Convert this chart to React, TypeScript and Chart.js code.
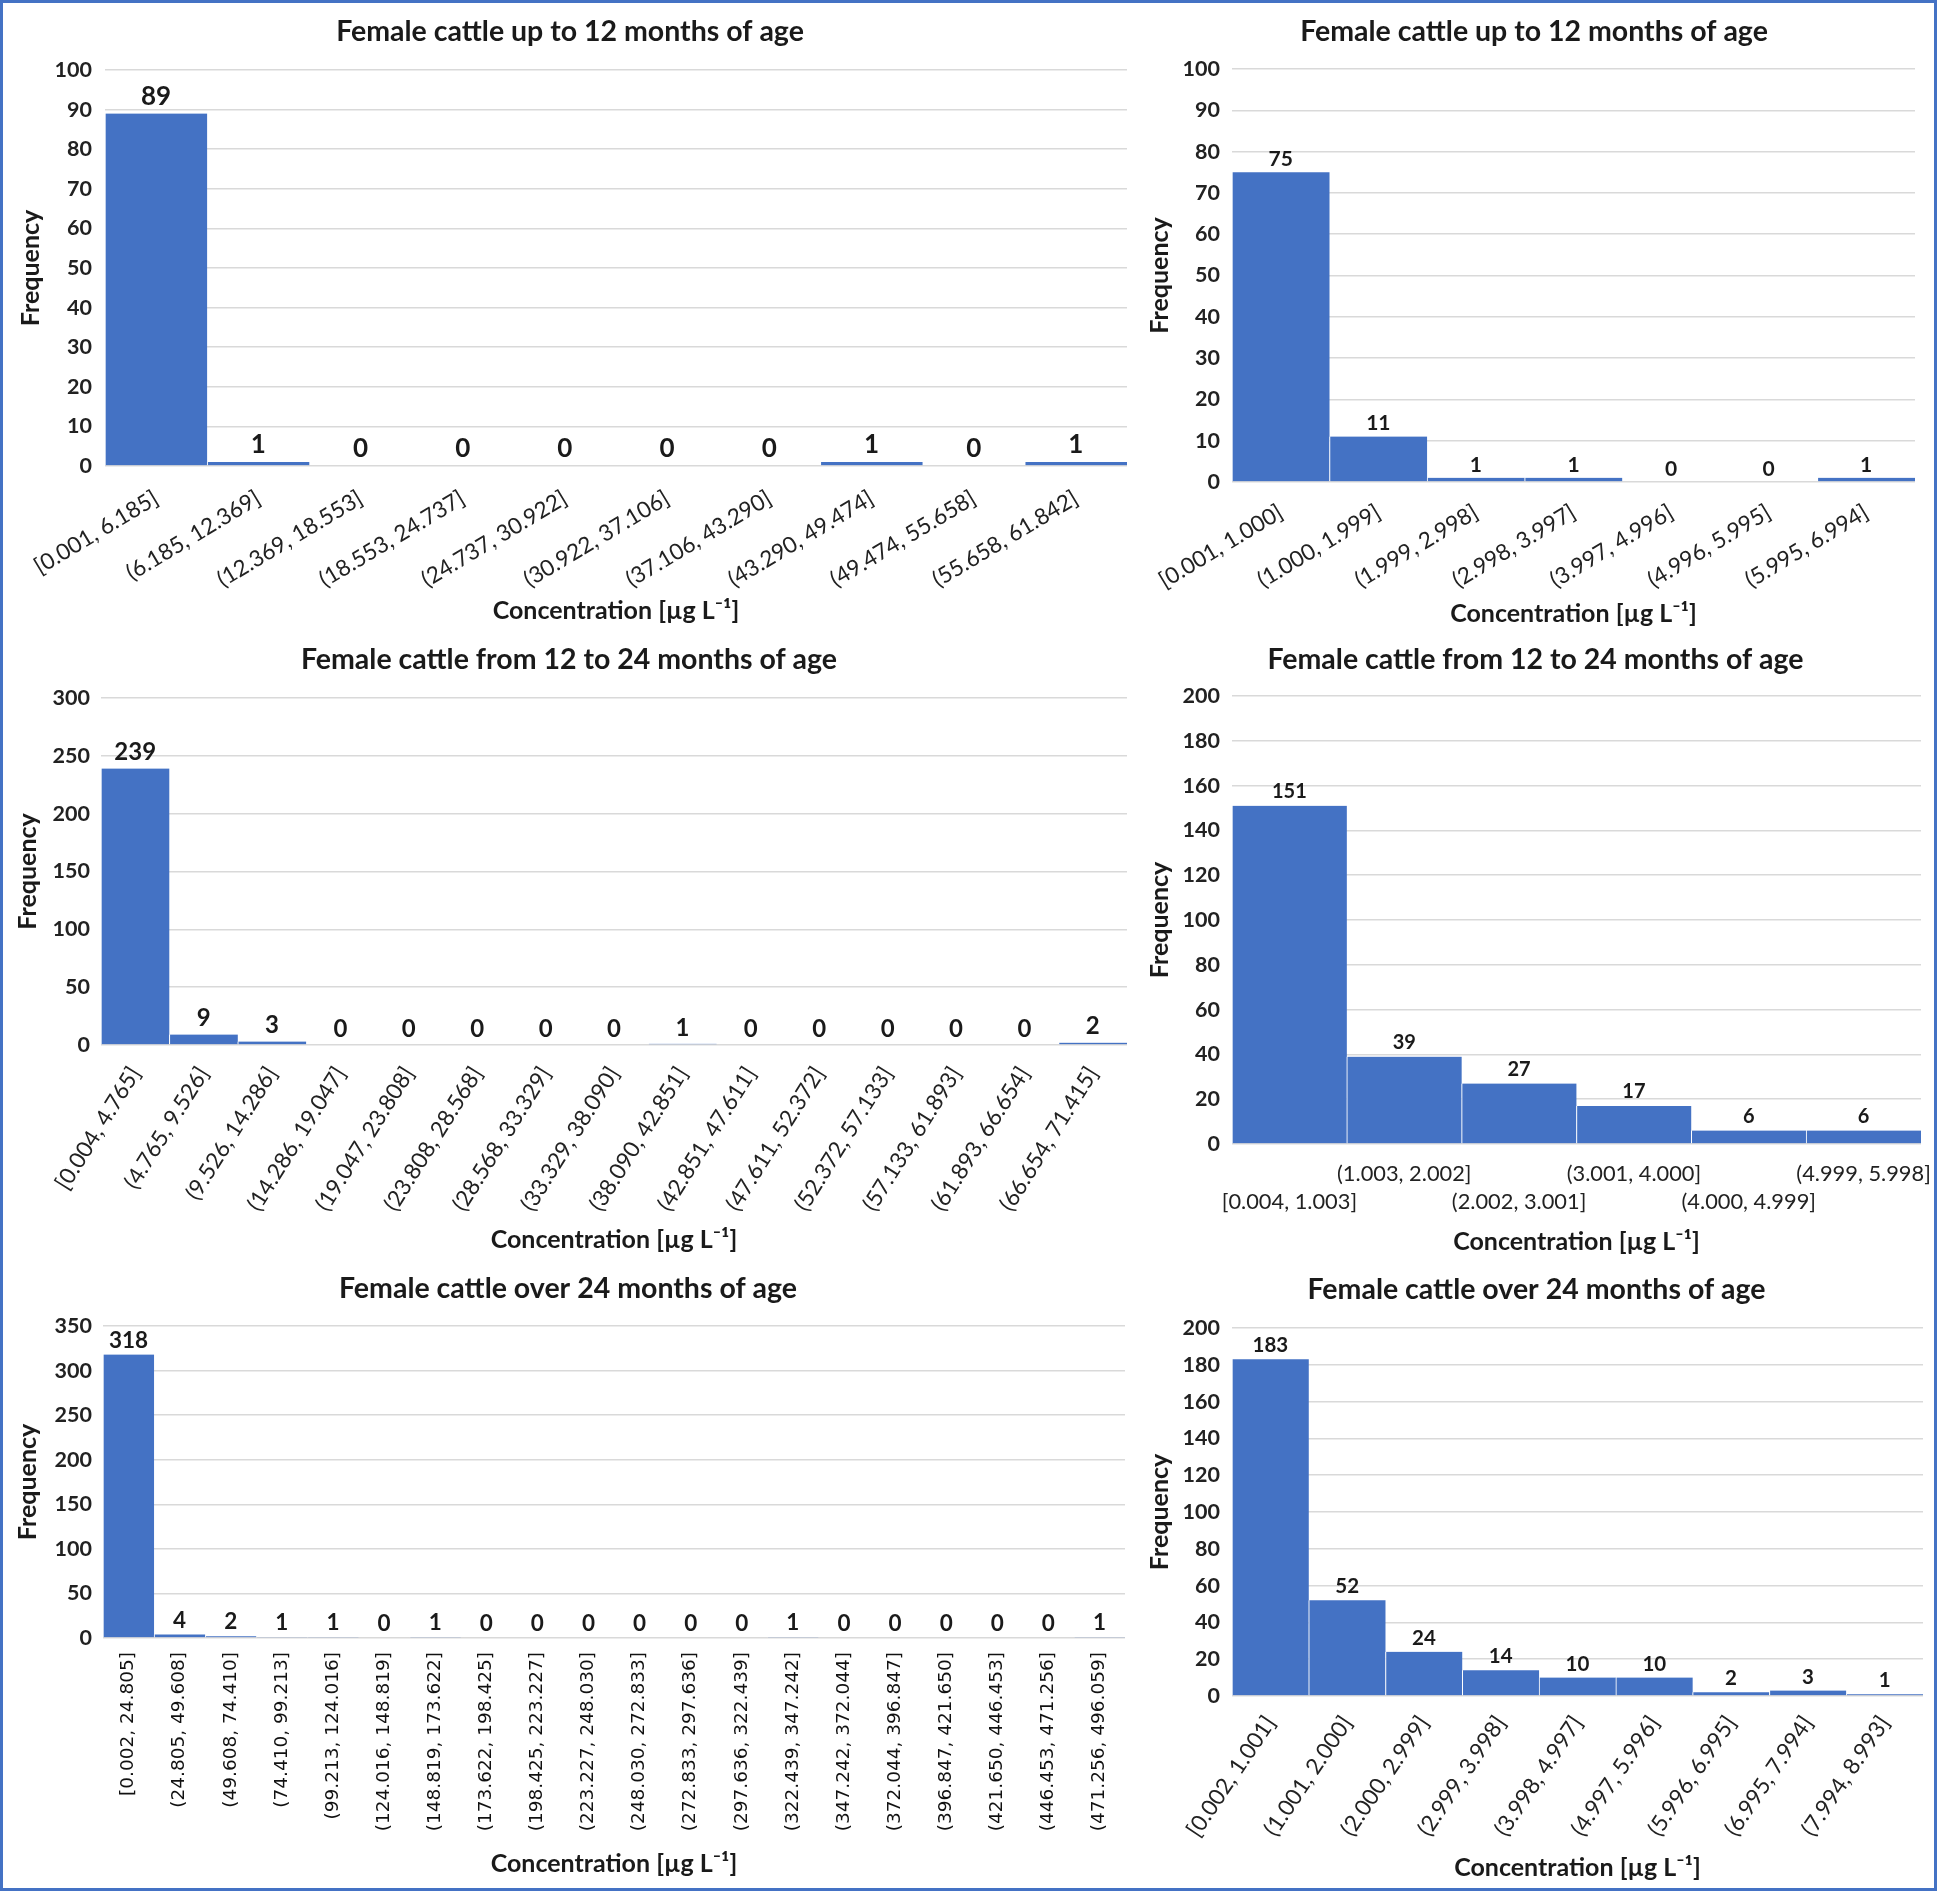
import React, { useEffect, useRef } from 'react';
import { Chart, registerables } from 'chart.js';

Chart.register(...registerables);

// ---------------- data ----------------
const title12 = 'Female cattle up to 12 months of age';
const title1224 = 'Female cattle from 12 to 24 months of age';
const title24 = 'Female cattle over 24 months of age';
const xAxisTitle = 'Concentration [µg L⁻¹]';
const yAxisTitle = 'Frequency';

const c1Labels = ['[0.001, 6.185]', '(6.185, 12.369]', '(12.369, 18.553]', '(18.553, 24.737]', '(24.737, 30.922]', '(30.922, 37.106]', '(37.106, 43.290]', '(43.290, 49.474]', '(49.474, 55.658]', '(55.658, 61.842]'];
const c1Values = [89, 1, 0, 0, 0, 0, 0, 1, 0, 1];
const c1Ticks = { max: 100, step: 10 };

const c2Labels = ['[0.001, 1.000]', '(1.000, 1.999]', '(1.999, 2.998]', '(2.998, 3.997]', '(3.997, 4.996]', '(4.996, 5.995]', '(5.995, 6.994]'];
const c2Values = [75, 11, 1, 1, 0, 0, 1];
const c2Ticks = { max: 100, step: 10 };

const c3Labels = ['[0.004, 4.765]', '(4.765, 9.526]', '(9.526, 14.286]', '(14.286, 19.047]', '(19.047, 23.808]', '(23.808, 28.568]', '(28.568, 33.329]', '(33.329, 38.090]', '(38.090, 42.851]', '(42.851, 47.611]', '(47.611, 52.372]', '(52.372, 57.133]', '(57.133, 61.893]', '(61.893, 66.654]', '(66.654, 71.415]'];
const c3Values = [239, 9, 3, 0, 0, 0, 0, 0, 1, 0, 0, 0, 0, 0, 2];
const c3Ticks = { max: 300, step: 50 };

const c4Labels = ['[0.004, 1.003]', '(1.003, 2.002]', '(2.002, 3.001]', '(3.001, 4.000]', '(4.000, 4.999]', '(4.999, 5.998]'];
const c4Values = [151, 39, 27, 17, 6, 6];
const c4Ticks = { max: 200, step: 20 };

const c5Labels = ['[0.002, 24.805]', '(24.805, 49.608]', '(49.608, 74.410]', '(74.410, 99.213]', '(99.213, 124.016]', '(124.016, 148.819]', '(148.819, 173.622]', '(173.622, 198.425]', '(198.425, 223.227]', '(223.227, 248.030]', '(248.030, 272.833]', '(272.833, 297.636]', '(297.636, 322.439]', '(322.439, 347.242]', '(347.242, 372.044]', '(372.044, 396.847]', '(396.847, 421.650]', '(421.650, 446.453]', '(446.453, 471.256]', '(471.256, 496.059]'];
const c5Values = [318, 4, 2, 1, 1, 0, 1, 0, 0, 0, 0, 0, 0, 1, 0, 0, 0, 0, 0, 1];
const c5Ticks = { max: 350, step: 50 };

const c6Labels = ['[0.002, 1.001]', '(1.001, 2.000]', '(2.000, 2.999]', '(2.999, 3.998]', '(3.998, 4.997]', '(4.997, 5.996]', '(5.996, 6.995]', '(6.995, 7.994]', '(7.994, 8.993]'];
const c6Values = [183, 52, 24, 14, 10, 10, 2, 3, 1];
const c6Ticks = { max: 200, step: 20 };

// ---------------- styles ----------------
const FONT = 'Lato, "Open Sans", sans-serif';
const BAR = '#4472C4';
const GRID = '#d9d9d9';
const TEXT = '#1a1a1a';
const TICK = '#222222';

const TITLE_SIZE = 28.5;
const YTITLE_SIZE = 25;
const XTITLE_SIZE = 25;
const YTICK_SIZE = 21.5;

type Spec = {
  title: string;
  labels: string[];
  values: number[];
  ticks: { max: number; step: number };
  cx: number; cy: number; cw: number; ch: number;
  pl: number; pt: number; pr: number; pb: number;
  titleX: number; titleY: number;
  freqX: number; yTickRight: number; xTitleY: number;
  rotation: number; xPad: number; xFont: number; xFamily?: string; xLineHeight?: number; xColor?: string;
  stagger?: boolean;
  valueFont: number; valueOffset: number;
};

const specs: Spec[] = [
  { title: title12, labels: c1Labels, values: c1Values, ticks: c1Ticks,
    cx: 3, cy: 3, cw: 1147, ch: 625, pl: 105, pt: 70, pr: 1127, pb: 466,
    titleX: 570, titleY: 31.5, freqX: 31, yTickRight: 92, xTitleY: 611,
    rotation: 31, xPad: 19, xFont: 22.5, valueFont: 26, valueOffset: 17 },
  { title: title12, labels: c2Labels, values: c2Values, ticks: c2Ticks,
    cx: 1150, cy: 3, cw: 784, ch: 625, pl: 1232, pt: 69, pr: 1915, pb: 482,
    titleX: 1534, titleY: 31.6, freqX: 1160, yTickRight: 1220, xTitleY: 614,
    rotation: 31, xPad: 17, xFont: 22.5, valueFont: 21, valueOffset: 13 },
  { title: title1224, labels: c3Labels, values: c3Values, ticks: c3Ticks,
    cx: 3, cy: 628, cw: 1147, ch: 634, pl: 101, pt: 698, pr: 1127, pb: 1045,
    titleX: 569, titleY: 660, freqX: 28, yTickRight: 90, xTitleY: 1240,
    rotation: 58, xPad: 17, xFont: 22.5, valueFont: 24, valueOffset: 16 },
  { title: title1224, labels: c4Labels, values: c4Values, ticks: c4Ticks,
    cx: 1150, cy: 628, cw: 784, ch: 634, pl: 1232, pt: 696, pr: 1921, pb: 1144,
    titleX: 1535.5, titleY: 659.6, freqX: 1160, yTickRight: 1220, xTitleY: 1242,
    rotation: 0, xPad: 15.5, xFont: 21.8, xLineHeight: 28.5 / 21.8, stagger: true, valueFont: 20, valueOffset: 14 },
  { title: title24, labels: c5Labels, values: c5Values, ticks: c5Ticks,
    cx: 3, cy: 1262, cw: 1147, ch: 626, pl: 103, pt: 1326, pr: 1125, pb: 1638,
    titleX: 568, titleY: 1289, freqX: 28, yTickRight: 92, xTitleY: 1863.5,
    rotation: 90, xPad: 14, xFont: 18.5, xFamily: '"DejaVu Sans", Verdana, sans-serif', xColor: '#111111',
    valueFont: 22.5, valueOffset: 14 },
  { title: title24, labels: c6Labels, values: c6Values, ticks: c6Ticks,
    cx: 1150, cy: 1262, cw: 784, ch: 626, pl: 1232, pt: 1328, pr: 1923, pb: 1696,
    titleX: 1532.5, titleY: 1290, freqX: 1160, yTickRight: 1220, xTitleY: 1867.5,
    rotation: 56, xPad: 15, xFont: 22.5, valueFont: 20.5, valueOffset: 13.5 },
];

const valueLabelPlugin = {
  id: 'valueLabels',
  afterDatasetsDraw(chart: any, _args: any, opts: any) {
    const ctx = chart.ctx;
    const meta = chart.getDatasetMeta(0);
    const data = chart.data.datasets[0].data;
    ctx.save();
    ctx.font = `bold ${opts.size}px ${FONT}`;
    ctx.fillStyle = TEXT;
    ctx.textAlign = 'center';
    ctx.textBaseline = 'middle';
    meta.data.forEach((bar: any, i: number) => {
      ctx.fillText(String(data[i]), bar.x, bar.y - opts.offset);
    });
    ctx.restore();
  },
};

function buildConfig(s: Spec): any {
  const padR = s.cx + s.cw - s.pr;
  const padL = Math.max(0, Math.round(2 * s.titleX - s.pr - s.cx));
  const yW = s.pl - s.cx - padL;
  const titleH = s.pt - s.cy;
  const xH = s.cy + s.ch - s.pb;
  const tLH = TITLE_SIZE * 1.2;
  const tPadTop = s.titleY - s.cy - tLH / 2;
  const tPadBottom = titleH - tLH - tPadTop;
  const yTitleLH = YTITLE_SIZE * 1.2;
  const xTitleLH = XTITLE_SIZE * 1.2;

  return {
    type: 'bar',
    data: {
      labels: s.labels,
      datasets: [
        {
          data: s.values,
          backgroundColor: BAR,
          borderColor: '#ffffff',
          borderWidth: { left: 1, right: 0, top: 0, bottom: 0 },
          borderSkipped: false,
          barPercentage: 1,
          categoryPercentage: 1,
        },
      ],
    },
    plugins: [valueLabelPlugin],
    options: {
      responsive: false,
      maintainAspectRatio: false,
      animation: false,
      events: [],
      layout: { padding: { left: padL, right: padR, top: 0, bottom: 0 } },
      plugins: {
        legend: { display: false },
        tooltip: { enabled: false },
        title: {
          display: true,
          text: s.title,
          color: TEXT,
          font: { family: FONT, size: TITLE_SIZE, weight: 'bold', lineHeight: 1.2 },
          padding: { top: tPadTop, bottom: tPadBottom },
        },
        valueLabels: { size: s.valueFont, offset: s.valueOffset },
      },
      scales: {
        x: {
          grid: { display: false, drawTicks: false },
          border: { display: false },
          ticks: {
            autoSkip: false,
            minRotation: s.rotation,
            maxRotation: s.rotation,
            padding: s.xPad,
            color: s.xColor || TICK,
            font: { family: s.xFamily || FONT, size: s.xFont, lineHeight: s.xLineHeight || 1.2 },
            callback: function (this: any, _v: any, i: number) {
              const lab = s.labels[i];
              if (s.stagger) return i % 2 === 0 ? ['', lab] : [lab, ''];
              return lab;
            },
          },
          title: {
            display: true,
            text: xAxisTitle,
            color: TEXT,
            font: { family: FONT, size: XTITLE_SIZE, weight: 'bold', lineHeight: 1.2 },
            padding: { top: 0, bottom: s.cy + s.ch - s.xTitleY - xTitleLH / 2 },
          },
          afterFit(scale: any) {
            scale.height = xH;
            scale.paddingLeft = 0;
            scale.paddingRight = 0;
          },
        },
        y: {
          min: 0,
          max: s.ticks.max,
          grid: { color: GRID, lineWidth: 1.5, drawTicks: false },
          border: { display: false },
          ticks: {
            stepSize: s.ticks.step,
            padding: s.pl - s.yTickRight,
            color: TICK,
            font: { family: FONT, size: YTICK_SIZE, weight: 'bold' },
          },
          title: {
            display: true,
            text: yAxisTitle,
            color: TEXT,
            font: { family: FONT, size: YTITLE_SIZE, weight: 'bold', lineHeight: 1.2 },
            padding: { top: s.freqX - (s.cx + padL) - yTitleLH / 2, bottom: 0 },
          },
          afterFit(scale: any) {
            scale.width = yW;
            scale.paddingTop = 0;
            scale.paddingBottom = 0;
          },
        },
      },
    },
  };
}

function Panel({ spec }: { spec: Spec }) {
  const ref = useRef<HTMLCanvasElement | null>(null);
  useEffect(() => {
    if (!ref.current) return;
    const chart = new Chart(ref.current, buildConfig(spec));
    return () => chart.destroy();
  }, [spec]);
  return (
    <canvas
      ref={ref}
      width={spec.cw}
      height={spec.ch}
      style={{ position: 'absolute', left: spec.cx, top: spec.cy, width: spec.cw, height: spec.ch }}
    />
  );
}

export default function App() {
  useEffect(() => {
    document.body.style.margin = '0';
  }, []);
  return (
    <div style={{ position: 'relative', width: 1937, height: 1891, background: '#ffffff', overflow: 'hidden' }}>
      {specs.map((s, i) => (
        <Panel key={i} spec={s} />
      ))}
      <div
        style={{
          position: 'absolute', left: 0, top: 0, width: 1937, height: 1891,
          boxSizing: 'border-box', border: '3px solid #4472C4', pointerEvents: 'none',
        }}
      />
    </div>
  );
}
